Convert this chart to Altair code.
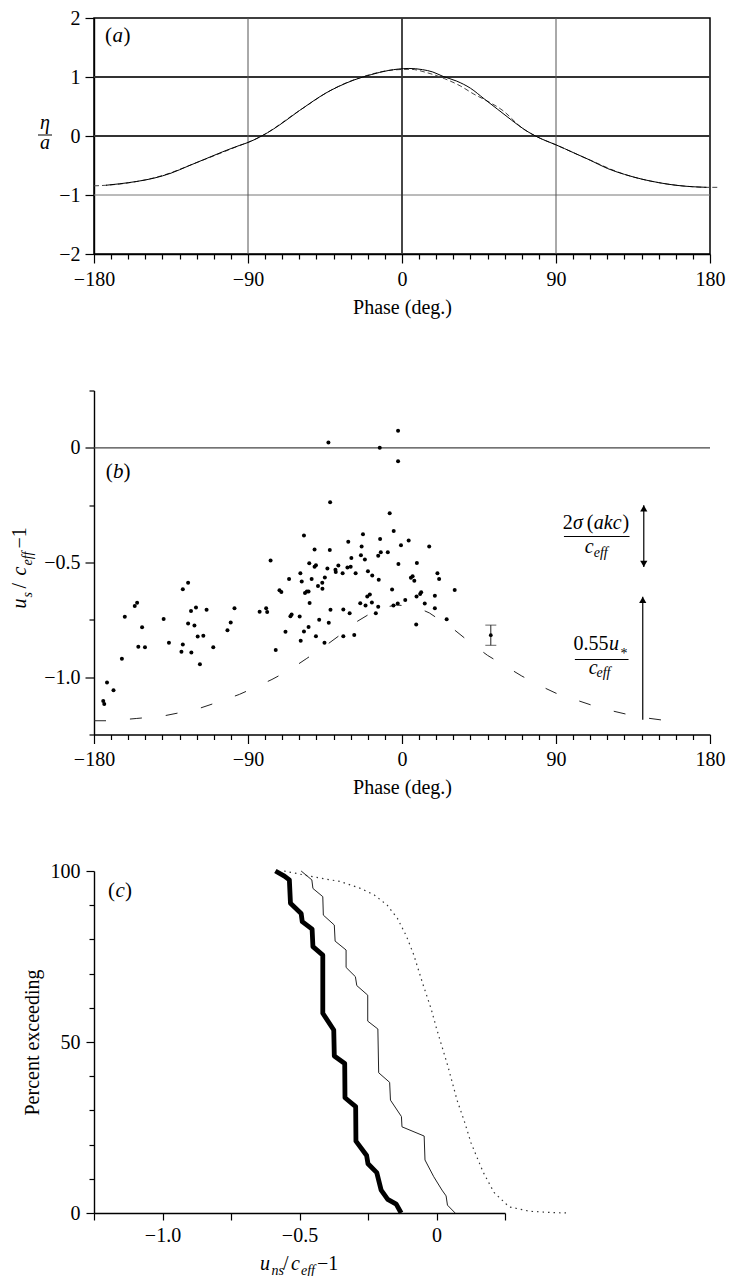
import altair as alt
import pandas as pd

FONT = "Liberation Serif"
MINUS = "\u2212"

# ---------------- panel (a): surface elevation ----------------
a_phase = [-173, -165, -155, -145, -135, -125, -115, -105, -95, -90,
           -82, -75, -68, -60, -52, -45, -37, -28, -18, -8,
           4, 12, 18, 24, 32, 40, 48, 56, 64, 72,
           78, 84, 90, 100, 110, 120, 130, 140, 150, 160,
           170, 178]
a_eta = [-0.835, -0.81, -0.77, -0.715, -0.63, -0.51, -0.39, -0.27, -0.16, -0.11,
         0.0, 0.12, 0.26, 0.43, 0.59, 0.72, 0.84, 0.95, 1.04, 1.11,
         1.145, 1.125, 1.085, 1.01, 0.93, 0.81, 0.63, 0.45, 0.27, 0.10,
         0.0, -0.08, -0.15, -0.28, -0.41, -0.55, -0.65, -0.73, -0.79, -0.835,
         -0.86, -0.87]
a2_phase = [-180, -173, -160, -140, -120, -100, -82, -60, -40, -20,
            -5, 5, 15, 25, 34, 42, 50, 59, 70, 78,
            90, 110, 130, 150, 170, 178, 185]
a2_eta = [-0.845, -0.835, -0.795, -0.67, -0.45, -0.22, 0.0, 0.43, 0.80, 1.03,
          1.12, 1.13, 1.07, 0.97, 0.85, 0.71, 0.59, 0.43, 0.14, 0.0,
          -0.15, -0.41, -0.65, -0.79, -0.86, -0.87, -0.87]
a_grid_strong_y = [1, 0]
a_grid_light_y = [-1]
a_grid_strong_x = [0]
a_grid_light_x = [-90, 90]
a_y_ticks = [-2, -1, 0, 1, 2]

# ---------------- panel (b): scatter ----------------
b_phase = [
    -174.6, -174.0, -172.4, -168.6, -163.7, -162.0, -156.2, -154.8, -154.1, -151.9,
    -150.2, -139.3, -136.2, -128.9, -128.1, -128.1, -125.0, -125.0, -123.3, -123.1,
    -121.3, -120.4, -119.4, -118.1, -116.1, -114.2, -110.3, -102.0, -100.1,
    -43.0, -42.0, -57.3, -51.1, -42.2, -22.8, -31.4, -23.6, -76.8, -54.2,
    -51.1, -50.3, -43.6, -38.9, -38.7, -37.2, -34.7, -31.9, -30.0, -29.6,
    -24.0, -21.7, -27.1, -19.9, -17.4, -66.0, -59.4, -58.6, -52.8, -45.1,
    -46.6, -49.1, -46.5, -71.6, -70.5, -56.7, -55.6, -54.6, -54.0, -97.9,
    -83.2, -79.4, -78.8, -65.2, -64.5, -59.8, -41.8, -34.3, -30.6, -24.4,
    -21.3, -20.3, -18.8, -17.6, -48.4, -42.8, -54.6, -57.3, -68.1, -73.8,
    -59.2, -50.3, -45.3, -34.3, -27.9,
    -2.3, -13.0, -2.3, -7.2, -4.85, -12.8, 3.9, -0.6, 15.9, -13.9,
    -12.4, -8.3, -2.1, 8.7, -13.6, 5.2, 6.2, 7.2, 20.7, 21.7,
    -5.8, 30.8, 8.5, 10.6, 11.2, 19.2, -13.9, -5.0, -2.5, 1.9,
    13.3, 19.2, -15.3, 8.3, 26.1,
]
b_val = [
    -1.104, -1.117, -1.023, -1.057, -0.92, -0.737, -0.69, -0.675, -0.867, -0.782,
    -0.87, -0.746, -0.85, -0.889, -0.858, -0.617, -0.588, -0.766, -0.711, -0.892,
    -0.775, -0.696, -0.823, -0.944, -0.819, -0.706, -0.87, -0.795, -0.762,
    0.023, -0.237, -0.382, -0.443, -0.446, -0.377, -0.409, -0.43, -0.491, -0.503,
    -0.519, -0.512, -0.526, -0.532, -0.541, -0.513, -0.547, -0.522, -0.518, -0.48,
    -0.468, -0.487, -0.547, -0.538, -0.557, -0.572, -0.547, -0.583, -0.572, -0.565,
    -0.588, -0.602, -0.614, -0.621, -0.629, -0.633, -0.626, -0.626, -0.677, -0.70,
    -0.715, -0.70, -0.716, -0.734, -0.727, -0.735, -0.706, -0.705, -0.721, -0.678,
    -0.688, -0.648, -0.639, -0.674, -0.75, -0.763, -0.781, -0.801, -0.802, -0.882,
    -0.841, -0.822, -0.85, -0.822, -0.816,
    0.075, 0.0, -0.058, -0.285, -0.363, -0.398, -0.404, -0.425, -0.43, -0.471,
    -0.455, -0.455, -0.506, -0.502, -0.575, -0.567, -0.56, -0.58, -0.547, -0.572,
    -0.618, -0.62, -0.648, -0.637, -0.63, -0.645, -0.693, -0.687, -0.679, -0.664,
    -0.679, -0.699, -0.721, -0.77, -0.748,
]
b_curve_phase = [-180, -170, -155, -140, -130, -118, -106, -95, -86, -76,
                 -66, -56, -46, -36, -28, -18, -10, -3, 3, 10,
                 16, 24, 30, 40, 50, 60, 70, 80, 90, 100,
                 110, 120, 132, 143, 155, 162]
b_curve_val = [-1.19, -1.19, -1.18, -1.17, -1.155, -1.135, -1.105, -1.075, -1.045, -1.01,
               -0.97, -0.92, -0.87, -0.815, -0.765, -0.72, -0.695, -0.685, -0.69, -0.70,
               -0.72, -0.76, -0.79, -0.85, -0.905, -0.95, -0.995, -1.035, -1.07, -1.095,
               -1.12, -1.142, -1.163, -1.178, -1.19, -1.19]
b_zero_line = [0]
b_y_ticks = [-1.25, -1.0, -0.75, -0.5, -0.25, 0, 0.25]
eb_phase = 51.9
eb_center = -0.817
eb_err = 0.044
sigma_arrow_phase = 141.3
sigma_arrow = [-0.25, -0.52]
ustar_arrow_phase = 140.7
ustar_arrow = [-0.649, -1.186]

# ---------------- panel (c): exceedance curves ----------------
thick_x = [-0.588, -0.555, -0.537, -0.533, -0.494, -0.49, -0.454, -0.451, -0.415, -0.415,
           -0.375, -0.373, -0.335, -0.334, -0.295, -0.294, -0.255, -0.25, -0.218, -0.202,
           -0.178, -0.147, -0.129]
thick_y = [100, 98.5, 97.4, 90.6, 87.6, 85.2, 83.0, 77.9, 75.4, 58.4,
           53.5, 45.9, 43.7, 33.7, 31.1, 21.0, 16.8, 14.4, 11.8, 6.7,
           4.0, 2.6, 0]
thin_x = [-0.494, -0.455, -0.451, -0.415, -0.413, -0.373, -0.37, -0.33, -0.33, -0.296,
          -0.291, -0.251, -0.251, -0.214, -0.211, -0.171, -0.168, -0.128, -0.126, -0.045,
          -0.042, -0.01, 0.02, 0.035, 0.04, 0.068]
thin_y = [100, 97.4, 94.9, 92.5, 87.1, 84.2, 79.5, 76.9, 71.8, 69.1,
          66.5, 63.7, 56.1, 53.8, 41.0, 38.2, 33.0, 28.2, 25.2, 22.5,
          15.5, 10.6, 6.7, 5.0, 2.3, 0]
dotted_x = [-0.556, -0.45, -0.35, -0.28, -0.227, -0.18, -0.143, -0.11, -0.083, -0.05,
            -0.02, 0.0, 0.042, 0.075, 0.103, 0.126, 0.17, 0.21, 0.265, 0.34,
            0.42, 0.478]
dotted_y = [100, 98.3, 96.9, 95, 93.0, 90, 86.2, 81, 75.5, 67,
            59.8, 54, 42.8, 33, 26.5, 20.5, 12, 6, 1.8, 0.5,
            0.15, 0]
c_x_ticks = [-1.25, -1.0, -0.75, -0.5, -0.25, 0, 0.25]
c_y_ticks = list(range(0, 101, 10))
phase_ticks = list(range(-180, 181, 10))

W_AB = 616          # plot width of panels (a) and (b)
FX = W_AB / 620.0   # horizontal factor for the annotations of panel (b)


# ---------------- helpers ----------------
def line_df(xs, ys):
    return pd.DataFrame({"x": xs, "y": ys, "i": list(range(len(xs)))})


def txt(s, x, y, size=20, italic=False, align="left", angle=0):
    kw = dict(font=FONT, fontSize=size, fontStyle="italic" if italic else "normal",
              align=align, baseline="alphabetic", color="black")
    if angle:
        kw["angle"] = angle
    return alt.Chart(pd.DataFrame({"t": [s]})).mark_text(**kw).encode(
        x=alt.value(x), y=alt.value(y), text="t:N")


def hbar(x1, x2, y):
    return alt.Chart(pd.DataFrame({"t": [0]})).mark_rule(color="black", strokeWidth=1).encode(
        x=alt.value(x1), x2=alt.value(x2), y=alt.value(y))


phase_label = ("datum.value % 90 === 0 ? (datum.value < 0 ? '" + MINUS +
               "' + abs(datum.value) : '' + datum.value) : ''")
half_label = ("datum.value === 0 ? '0' : (abs(datum.value * 2 - round(datum.value * 2)) < 0.001 ? "
              "(datum.value < 0 ? '" + MINUS + "' : '') + format(abs(datum.value), '.1f') : '')")
int_label = "datum.value < 0 ? '" + MINUS + "' + abs(datum.value) : '' + datum.value"

phase_ticksize = {"condition": {"test": "datum.value % 90 === 0", "value": 9}, "value": 5}
half_ticksize = {"condition": {"test": "abs(datum.value * 2 - round(datum.value * 2)) < 0.001", "value": 9}, "value": 5}
c_y_ticksize = {"condition": {"test": "datum.value % 50 === 0", "value": 8}, "value": 5}


def phase_x():
    return alt.X("x:Q", scale=alt.Scale(domain=[-180, 180], nice=False, zero=False),
                 axis=alt.Axis(values=phase_ticks, labelExpr=phase_label, tickSize=phase_ticksize,
                               labelPadding=6, title="Phase (deg.)", titlePadding=8,
                               labelOverlap=False, labelFlush=False))


# ---------------- panel (a) ----------------
xa = phase_x()
ya = alt.Y("y:Q", scale=alt.Scale(domain=[-2, 2], nice=False, zero=False),
           axis=alt.Axis(values=a_y_ticks, labelExpr=int_label, tickSize=9, labelPadding=5,
                         title=None, labelFlush=False))

a_layers = [
    alt.Chart(pd.DataFrame({"y": a_grid_light_y})).mark_rule(color="#777", strokeWidth=1).encode(y=ya),
    alt.Chart(pd.DataFrame({"y": a_grid_strong_y})).mark_rule(color="#333", strokeWidth=1.8).encode(y=ya),
    alt.Chart(pd.DataFrame({"x": a_grid_light_x})).mark_rule(color="#555", strokeWidth=1).encode(x=xa),
    alt.Chart(pd.DataFrame({"x": a_grid_strong_x})).mark_rule(color="#333", strokeWidth=1.8).encode(x=xa),
    alt.Chart(line_df(a2_phase, a2_eta)).mark_line(color="#444", strokeWidth=1, strokeDash=[5, 3],
                                                   interpolate="monotone").encode(x=xa, y=ya, order="i:Q"),
    alt.Chart(line_df(a_phase, a_eta)).mark_line(color="black", strokeWidth=1, interpolate="monotone").encode(
        x=xa, y=ya, order="i:Q"),
    txt("(", 11, 24, size=21), txt("a", 18.5, 24, size=21, italic=True), txt(")", 29.5, 24, size=21),
    txt("\u03b7", -49, 111, italic=True, align="center"),
    hbar(-56, -42, 117),
    txt("a", -49, 131, italic=True, align="center"),
]
pa = alt.layer(*a_layers).properties(
    width=W_AB, height=236, view=alt.ViewBackground(stroke="black", strokeWidth=1.5))

# ---------------- panel (b) ----------------
xb = phase_x()
yb = alt.Y("y:Q", scale=alt.Scale(domain=[-1.25, 0.25], nice=False, zero=False),
           axis=alt.Axis(values=b_y_ticks, labelExpr=half_label, tickSize=half_ticksize,
                         labelPadding=5, title=None, labelOverlap=False, labelFlush=False))

arrow_df = pd.DataFrame({"x": [sigma_arrow_phase, ustar_arrow_phase],
                         "y": [sigma_arrow[0], ustar_arrow[0]],
                         "y2": [sigma_arrow[1], ustar_arrow[1]]})
up_heads = pd.DataFrame({"x": [sigma_arrow_phase, ustar_arrow_phase],
                         "y": [sigma_arrow[0], ustar_arrow[0]]})
down_heads = pd.DataFrame({"x": [sigma_arrow_phase], "y": [sigma_arrow[1]]})
eb_df = pd.DataFrame({"x": [eb_phase], "y": [eb_center - eb_err], "y2": [eb_center + eb_err]})
eb_caps = pd.DataFrame({"x": [eb_phase, eb_phase], "y": [eb_center - eb_err, eb_center + eb_err]})
eb_pt = pd.DataFrame({"x": [eb_phase], "y": [eb_center]})

b_layers = [
    alt.Chart(pd.DataFrame({"y": b_zero_line})).mark_rule(color="#444", strokeWidth=1.2).encode(y=yb),
    alt.Chart(line_df(b_curve_phase, b_curve_val)).mark_line(
        color="#222", strokeWidth=1, strokeDash=[12, 24]).encode(x=xb, y=yb, order="i:Q"),
    alt.Chart(pd.DataFrame({"x": b_phase, "y": b_val})).mark_circle(
        size=16, color="black", opacity=1).encode(x=xb, y=yb),
    alt.Chart(eb_df).mark_rule(color="#222", strokeWidth=1).encode(x=xb, y=yb, y2="y2:Q"),
    alt.Chart(eb_caps).mark_tick(orient="horizontal", size=11, thickness=1, color="#222").encode(x=xb, y=yb),
    alt.Chart(eb_pt).mark_circle(size=14, color="black", opacity=1).encode(x=xb, y=yb),
    alt.Chart(arrow_df).mark_rule(color="black", strokeWidth=1.2).encode(x=xb, y=yb, y2="y2:Q"),
    alt.Chart(up_heads).mark_point(shape="M0,0L0.9,1.6L-0.9,1.6Z", filled=True, size=64,
                                   color="black", opacity=1).encode(x=xb, y=yb),
    alt.Chart(down_heads).mark_point(shape="M0,0L0.9,-1.6L-0.9,-1.6Z", filled=True, size=64,
                                     color="black", opacity=1).encode(x=xb, y=yb),
    txt("(", 11.7, 87, size=21), txt("b", 19, 87, size=21, italic=True), txt(")", 29.5, 87, size=21),
    # y-axis title u_s / c_eff - 1 (rotated)
    txt("u", -68, 218, italic=True, angle=270),
    txt("s", -62, 207, size=14, italic=True, angle=270),
    txt("/", -68, 198, angle=270),
    txt("c", -68, 185, italic=True, angle=270),
    txt("eff", -62, 175, size=14, italic=True, angle=270),
    txt(MINUS + "1", -68, 158, angle=270),
    # 2 sigma(akc) / c_eff
    txt("2", 471.7 * FX, 138), txt("\u03c3", 482 * FX, 138, italic=True), txt("(", 496 * FX, 138),
    txt("akc", 503 * FX, 138, italic=True), txt(")", 532 * FX, 138),
    hbar(473 * FX, 539 * FX, 146),
    txt("c", 494 * FX, 162, italic=True), txt("eff", 503 * FX, 166, size=14, italic=True),
    # 0.55 u* / c_eff
    txt("0.55", 482.7 * FX, 259), txt("u", 518.3 * FX, 259, italic=True), txt("*", 530 * FX, 267, size=14),
    hbar(484 * FX, 538 * FX, 269),
    txt("c", 498 * FX, 283, italic=True), txt("eff", 505.7 * FX, 286, size=14, italic=True),
]
pb = alt.layer(*b_layers).properties(width=W_AB, height=344)

# ---------------- panel (c) ----------------
xc = alt.X("x:Q", scale=alt.Scale(domain=[-1.25, 0.25], nice=False, zero=False),
           axis=alt.Axis(values=c_x_ticks, labelExpr=half_label, tickSize=7, labelPadding=5,
                         title=None, labelOverlap=False, labelFlush=False))
yc = alt.Y("y:Q", scale=alt.Scale(domain=[0, 100], nice=False, zero=False),
           axis=alt.Axis(values=c_y_ticks, labelExpr="datum.value % 50 === 0 ? '' + datum.value : ''",
                         tickSize=c_y_ticksize, labelPadding=6, title="Percent exceeding",
                         titlePadding=8, labelOverlap=False, labelFlush=False))

c_layers = [
    alt.Chart(line_df(dotted_x, dotted_y)).mark_line(
        color="#333", strokeWidth=1.2, strokeDash=[1.5, 4]).encode(x=xc, y=yc, order="i:Q"),
    alt.Chart(line_df(thin_x, thin_y)).mark_line(color="#222", strokeWidth=1).encode(
        x=xc, y=yc, order="i:Q"),
    alt.Chart(line_df(thick_x, thick_y)).mark_line(color="black", strokeWidth=4.8,
                                                   strokeJoin="round").encode(x=xc, y=yc, order="i:Q"),
    txt("(", 14, 26, size=21), txt("c", 21.5, 26, size=21, italic=True), txt(")", 31, 26, size=21),
    # x-axis title u_ns / c_eff - 1
    txt("u", 166, 399, italic=True),
    txt("ns", 177.5, 404, size=14, italic=True),
    txt("/", 189, 399),
    txt("c", 197, 399, italic=True),
    txt("eff", 207, 404, size=14, italic=True),
    txt(MINUS + "1", 223, 399),
]
pc = alt.layer(*c_layers).properties(width=411, height=342)

chart = alt.vconcat(pa, pb, pc, spacing=136.5, bounds="flush").properties(
    padding={"top": -1, "left": 2, "right": 0, "bottom": -2}
).configure(font=FONT).configure_axis(
    labelFont=FONT, titleFont=FONT, labelFontSize=20, titleFontSize=20,
    titleFontWeight="normal", labelColor="black", titleColor="black",
    domainColor="black", tickColor="black", domainWidth=1.4, tickWidth=1.2, grid=False
).configure_view(strokeWidth=0)

chart.save("out.html", embed_options={"renderer": "svg", "actions": False})
